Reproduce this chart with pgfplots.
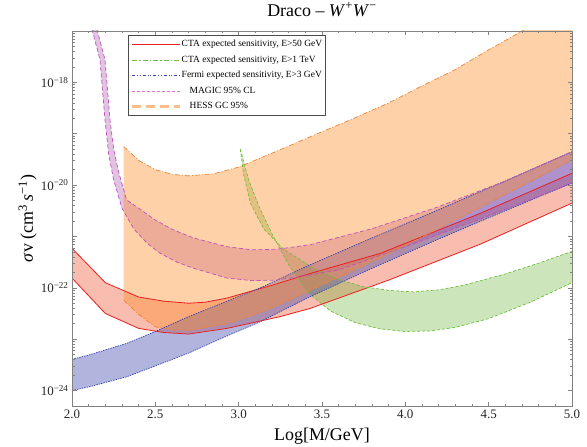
\documentclass[border=0pt]{standalone}
\usepackage{fontspec}
\setmainfont{Liberation Serif}
\usepackage{pgfplots}
\pgfplotsset{compat=1.18}
\usepackage{pgfplotstable}
\usepgfplotslibrary{fillbetween}

\definecolor{ctared}{RGB}{235,30,30}
\definecolor{ctaredfill}{RGB}{240,90,55}
\definecolor{ctagreen}{RGB}{110,190,60}
\definecolor{ctagreenfill}{RGB}{110,180,60}
\definecolor{fermiblue}{RGB}{55,70,175}
\definecolor{fermifill}{RGB}{60,70,170}
\definecolor{magicline}{RGB}{190,80,190}
\definecolor{magicfill}{RGB}{170,80,170}
\definecolor{magiclegend}{RGB}{225,110,210}
\definecolor{hessline}{RGB}{240,130,50}
\definecolor{hessfill}{RGB}{255,140,40}
\definecolor{hesslegend}{RGB}{250,190,140}
\definecolor{axisgray}{RGB}{130,130,130}

% log10 of <sigma v>
\pgfplotstableread{
x L
2.00 -21.23
2.20 -21.90
2.40 -22.18
2.55 -22.26
2.70 -22.30
2.80 -22.28
2.93 -22.20
3.20 -21.95
3.43 -21.72
3.85 -21.33
4.45 -20.55
5.00 -19.77
}\ctaAup
\pgfplotstableread{
x L
2.00 -21.81
2.20 -22.50
2.40 -22.79
2.55 -22.87
2.70 -22.90
2.93 -22.79
3.25 -22.56
3.43 -22.40
3.90 -21.85
4.45 -21.15
5.00 -20.35
}\ctaAlo
\pgfplotstableread{
x L
3.01 -19.30
3.03 -19.80
3.07 -20.35
3.15 -20.85
3.27 -21.25
3.45 -21.62
3.60 -21.84
3.75 -21.98
3.90 -22.05
4.05 -22.08
4.20 -22.04
4.35 -21.95
4.60 -21.73
4.80 -21.52
5.00 -21.29
}\ctaBup
\pgfplotstableread{
x L
3.01 -19.30
3.06 -19.90
3.12 -20.40
3.20 -20.95
3.30 -21.55
3.42 -22.10
3.55 -22.45
3.70 -22.68
3.85 -22.80
4.00 -22.85
4.15 -22.84
4.30 -22.77
4.50 -22.60
4.75 -22.28
5.00 -21.90
}\ctaBlo
\pgfplotstableread{
x L
2.00 -23.39
2.10 -23.31
2.33 -23.08
2.50 -22.85
2.70 -22.56
2.90 -22.30
3.13 -22.00
3.43 -21.55
3.80 -21.03
4.20 -20.48
4.60 -19.92
5.00 -19.35
}\fermiup
\pgfplotstableread{
x L
2.00 -24.00
2.10 -23.93
2.33 -23.73
2.50 -23.52
2.70 -23.27
2.90 -22.98
3.13 -22.66
3.43 -22.17
3.80 -21.62
4.20 -21.05
4.60 -20.50
5.00 -19.96
}\fermilo
\pgfplotstableread{
x L
2.12 -16.60
2.198 -17.56
2.228 -18.73
2.25 -19.30
2.28 -19.75
2.328 -20.29
2.40 -20.45
2.50 -20.68
2.60 -20.86
2.73 -21.03
2.93 -21.20
3.08 -21.26
3.23 -21.25
3.43 -21.16
3.80 -20.85
4.20 -20.42
4.60 -19.92
5.00 -19.35
}\magicup
\pgfplotstableread{
x L
2.09 -16.60
2.168 -17.56
2.198 -18.73
2.22 -19.40
2.25 -19.90
2.30 -20.45
2.37 -20.85
2.45 -21.13
2.53 -21.33
2.63 -21.50
2.73 -21.62
2.93 -21.81
3.08 -21.86
3.23 -21.85
3.43 -21.75
3.60 -21.65
4.00 -21.20
4.50 -20.60
5.00 -19.96
}\magiclo
\pgfplotstableread{
x L
2.31 -19.25
2.40 -19.52
2.50 -19.70
2.60 -19.79
2.70 -19.82
2.85 -19.78
3.00 -19.65
3.25 -19.31
3.45 -19.03
3.67 -18.73
3.90 -18.40
4.10 -18.07
4.30 -17.75
4.45 -17.46
4.70 -17.00
5.00 -16.45
}\hessup
\pgfplotstableread{
x L
2.31 -22.24
2.40 -22.52
2.50 -22.76
2.60 -22.82
2.70 -22.83
2.93 -22.70
3.10 -22.52
3.25 -22.32
3.50 -21.95
4.00 -21.18
4.50 -20.35
5.00 -19.51
}\hesslo

\begin{document}
\begin{tikzpicture}
\begin{axis}[
    set layers,
    axis on top,
    scale only axis,
    width=500bp, height=375bp,
    xmin=2, xmax=5,
    ymode=log,
    ymin=5e-25, ymax=1e-17,
    xtick={2,2.5,3,3.5,4,4.5,5},
    minor x tick num=4,
    ytick={1e-24,1e-23,1e-22,1e-21,1e-20,1e-19,1e-18,1e-17},
    yticklabels={10\textsuperscript{−24},{},10\textsuperscript{−22},{},10\textsuperscript{−20},{},10\textsuperscript{−18},{}},
    tick align=inside,
    major tick length=4.5bp,
    minor tick length=2.5bp,
    axis line style={draw=axisgray, line width=0.8pt},
    every tick/.style={axisgray, line width=0.5pt},
    tick label style={font=\fontsize{13}{13}\selectfont, black!85},
    x tick label style={/pgf/number format/fixed,
        /pgf/number format/fixed zerofill,
        /pgf/number format/precision=1,
        /pgf/number format/assume math mode=true},
    xlabel={Log[M/GeV]},
    xlabel style={font=\fontsize{18}{20}\selectfont, at={(axis description cs:0.5,0)}, anchor=base, yshift=-34bp},
    ylabel={\textit{σ}v (cm\textsuperscript{3}\,\textit{s}\textsuperscript{−1})},
    ylabel style={font=\fontsize{18}{20}\selectfont, at={(axis description cs:-0.078,0.5)}, anchor=base},
    title={Draco – \textit{W}\textsuperscript{+}\textit{W}\textsuperscript{−}},
    title style={font=\fontsize{18}{20}\selectfont, at={(axis description cs:0.5,1)}, anchor=base, yshift=9bp},
    legend image code/.code={\draw[#1] (0pt,0pt) -- (48pt,0pt);},
    legend style={at={(0.112,0.989)}, anchor=north west, draw=black!70, line width=0.5pt,
        font=\fontsize{9.5}{11}\selectfont, inner xsep=3pt, inner ysep=4pt,
        row sep=5.6pt,
        nodes={inner sep=0.5pt, text height=7pt, text depth=2pt}},
    legend cell align=left,
  ]

  % bands: boundaries
  \addplot[forget plot, ctared, line width=0.8pt, name path=aU] table[x=x, y expr=10^(\thisrow{L})] {\ctaAup};
  \addplot[forget plot, ctared, line width=0.8pt, name path=aL] table[x=x, y expr=10^(\thisrow{L})] {\ctaAlo};
  \addplot[forget plot, ctagreen, line width=0.7pt, dash pattern=on 3pt off 2pt, name path=bU] table[x=x, y expr=10^(\thisrow{L})] {\ctaBup};
  \addplot[forget plot, ctagreen, line width=0.7pt, dash pattern=on 3pt off 2pt, name path=bL] table[x=x, y expr=10^(\thisrow{L})] {\ctaBlo};
  \addplot[forget plot, fermiblue, line width=0.7pt, dash pattern=on 1.5pt off 1pt, name path=fU] table[x=x, y expr=10^(\thisrow{L})] {\fermiup};
  \addplot[forget plot, fermiblue, line width=0.7pt, dash pattern=on 1.5pt off 1pt, name path=fL] table[x=x, y expr=10^(\thisrow{L})] {\fermilo};
  \addplot[forget plot, magicline, line width=0.7pt, dash pattern=on 4pt off 2.5pt, name path=mU] table[x=x, y expr=10^(\thisrow{L})] {\magicup};
  \addplot[forget plot, magicline, line width=0.7pt, dash pattern=on 4pt off 2.5pt, name path=mL] table[x=x, y expr=10^(\thisrow{L})] {\magiclo};
  \addplot[forget plot, hessline, line width=0.7pt, dash pattern=on 5pt off 2pt on 1pt off 2pt, name path=hU] table[x=x, y expr=10^(\thisrow{L})] {\hessup};
  \addplot[forget plot, hessline, line width=0.7pt, dash pattern=on 5pt off 2pt on 1pt off 2pt, name path=hL] table[x=x, y expr=10^(\thisrow{L})] {\hesslo};

  % bands: fills
  \addplot[forget plot, draw=none, fill=ctaredfill, fill opacity=0.4] fill between[of=aU and aL];
  \addplot[forget plot, draw=none, fill=ctagreenfill, fill opacity=0.35] fill between[of=bU and bL];
  \addplot[forget plot, draw=none, fill=fermifill, fill opacity=0.4] fill between[of=fU and fL];
  \addplot[forget plot, draw=none, fill=magicfill, fill opacity=0.35] fill between[of=mU and mL];
  \addplot[forget plot, draw=none, fill=hessfill, fill opacity=0.4] fill between[of=hU and hL];

  \addlegendimage{ctared, line width=0.7pt}
  \addlegendentry{CTA expected sensitivity, E>50 GeV}
  \addlegendimage{ctagreen, line width=0.7pt, dash pattern=on 5pt off 2pt on 1.5pt off 2pt}
  \addlegendentry{CTA expected sensitivity, E>1 TeV}
  \addlegendimage{fermiblue, line width=0.7pt, dash pattern=on 3pt off 2pt on 1pt off 1.5pt on 1pt off 2pt}
  \addlegendentry{Fermi expected sensitivity, E>3 GeV}
  \addlegendimage{magiclegend, line width=0.7pt, dash pattern=on 3pt off 2pt}
  \addlegendentry{\hspace*{8pt}MAGIC 95\% CL}
  \addlegendimage{hesslegend, line width=2.2pt, dash pattern=on 9pt off 5pt}
  \addlegendentry{\hspace*{8pt}HESS GC 95\%}
\end{axis}
\pgfresetboundingbox
\path[use as bounding box] ([xshift=-72bp,yshift=-41bp]current axis.south west) rectangle ([xshift=15bp,yshift=31bp]current axis.north east);
\end{tikzpicture}
\end{document}
